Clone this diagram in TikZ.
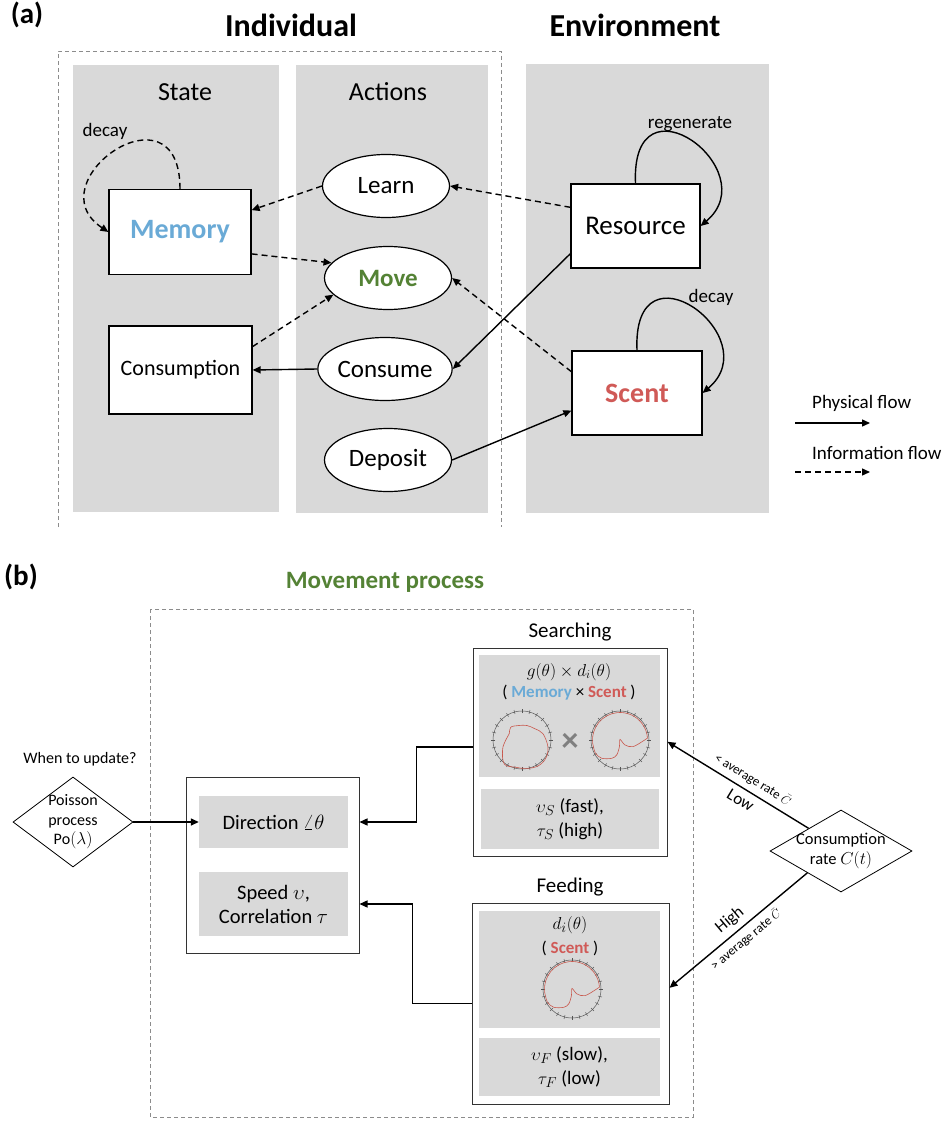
\documentclass[tikz,border=0pt]{standalone}
\usepackage{fontspec}
\setmainfont{Carlito}
\usetikzlibrary{shapes.geometric}
\usetikzlibrary{arrows.meta}
\definecolor{panelgray}{HTML}{D9D9D9}
\definecolor{memblue}{HTML}{6AAAD6}
\definecolor{scentred}{HTML}{D05A57}
\definecolor{movegreen}{HTML}{548235}
\definecolor{plotred}{HTML}{C8594E}
\definecolor{gridgray}{HTML}{555555}
\newcommand{\fs}[2]{\fontsize{#1}{#2}\selectfont}
\tikzset{
	txt/.style = {
		align=center,
		inner sep=0pt
	},
	hdr/.style = {
		txt,
		font=\fs{32}{38}\bfseries
	},
	tag/.style = {
		txt,
		font=\fs{29}{34}\bfseries
	},
	panel/.style = {
		rectangle,
		fill=panelgray,
		draw=none,
		inner sep=0pt
	},
	statebox/.style = {
		rectangle,
		draw=black,
		fill=white,
		line width=1.2pt,
		inner sep=0pt,
		align=center
	},
	actnode/.style = {
		ellipse,
		draw=black,
		fill=white,
		line width=1.2pt,
		inner sep=0pt,
		minimum width=127pt,
		minimum height=63pt,
		font=\fs{25}{30}
	},
	outbox/.style = {
		rectangle,
		draw=black!80,
		line width=1pt,
		inner sep=0pt
	},
	decision/.style = {
		diamond,
		draw=black,
		line width=0.8pt,
		inner sep=0pt
	},
	phys/.style = {
		line width=1.4pt,
		-{Triangle[length=8pt,width=7pt]}
	},
	revphys/.style = {
		line width=1.4pt,
		{Triangle[length=8pt,width=7pt]}-
	},
	info/.style = {
		phys,
		dash pattern=on 6pt off 4pt
	},
	groupline/.style = {
		draw=black!45,
		line width=0.8pt,
		dash pattern=on 4pt off 3pt
	},
	plotline/.style = {
		plotred,
		line width=0.6pt
	}
}
\newcommand{\polargrid}{%
	\draw[gridgray, line width=0.5pt] (0,0) circle[radius=1];
	\foreach \a in {0,15,...,345}
		\draw[gridgray, line width=0.5pt] (\a:0.93) -- (\a:1.07);
}
\newcommand{\scentcurve}{%
	\draw[plotline] plot[smooth, tension=0.5] coordinates {(0.95,0.07) (0.85,0) (0.45,-0.23) (0.17,-0.17) (0,0.02) (-0.02,-0.23) (-0.11,-0.51) (-0.28,-0.63) (-0.63,-0.63) (-0.85,-0.45) (-0.945,-0.1)}
		arc[start angle=186, end angle=4, radius=0.95];
}

\begin{document}
\begin{tikzpicture}[x=1pt, y=-1pt]
\useasboundingbox (0,0) rectangle (947,1121);

% (a) individual and environment
\node [tag] (taga) at (27,15) {(a)};
\node [hdr] (indiv) at (291,25) {Individual};
\node [hdr] (envir) at (635,25) {Environment};

\node [panel, minimum width=206pt, minimum height=447pt] (statepanel) at (176,288.5) {};
\node [panel, minimum width=192pt, minimum height=448pt] (actpanel) at (392,289) {};
\node [panel, minimum width=243pt, minimum height=449pt] (envpanel) at (647.5,288.5) {};
\draw [groupline] (58,527) -- (58,51) -- (501,51) -- (501,527);

\node [txt, font=\fs{26}{30}] (statehdr) at (185,92) {State};
\node [txt, font=\fs{26}{30}] (acthdr) at (388,92) {Actions};

\node [statebox, minimum width=142pt, minimum height=85pt, font=\fs{28}{32}\bfseries, text=memblue] (memory) at (180,232) {Memory};
\node [statebox, minimum width=143pt, minimum height=88pt, font=\fs{22}{26}] (consumption) at (180.5,370) {Consumption};

\node [actnode] (learn) at (386,186) {Learn};
\node [actnode, font=\fs{25}{30}\bfseries, text=movegreen] (move) at (388,278) {Move};
\node [actnode] (consume) at (385,369) {Consume};
\node [actnode] (deposit) at (388,460) {Deposit};

\node [statebox, minimum width=129pt, minimum height=84pt, font=\fs{27}{32}] (resource) at (635.5,226) {Resource};
\node [statebox, minimum width=130pt, minimum height=84pt, font=\fs{28}{32}\bfseries, text=scentred] (scent) at (637,393) {Scent};

% self loops
\draw [info] (memory.north) .. controls +(0,-110) and +(-75,-50) .. (memory.west);
\draw [phys] (resource.north) .. controls +(-5,-114) and +(66,-56) .. (resource.east);
\draw [phys] (scent.north) .. controls +(-5,-114) and +(66,-56) .. (scent.east);
\node [txt, font=\fs{19}{23}] (memdecay) at (105,131) {decay};
\node [txt, font=\fs{19}{23}] (regen) at (690,124) {regenerate};
\node [txt, font=\fs{19}{23}] (scentdecay) at (711,297) {decay};

% flows
\draw [info] (learn.west) -- (memory.17);
\draw [info] (resource.164) -- (learn.east);
\draw [info] (memory.-17) -- (move.165);
\draw [info] (consumption.18) -- (move.197);
\draw [info] (scent.162) -- (move.east);
\draw [phys] (consume.west) -- (consumption.east);
\draw [phys] (resource.203) -- (consume.east);
\draw [phys] (deposit.east) -- (scent.195);

% legend
\coordinate (physA) at (795,423);
\coordinate (physB) at (870,423);
\coordinate (infoA) at (795,472);
\coordinate (infoB) at (870,472);
\node [txt, anchor=west, font=\fs{19}{23}] (physlbl) at (812,403) {Physical flow};
\node [txt, anchor=west, font=\fs{19}{23}] (infolbl) at (812,453) {Information flow};
\draw [phys] (physA) -- (physB);
\draw [info] (infoA) -- (infoB);

% (b) movement process
\node [tag] (tagb) at (21,577) {(b)};
\node [txt, font=\fs{25}{30}\bfseries, text=movegreen] (movehdr) at (385,582) {Movement process};
\draw [groupline] (150,609) rectangle (693,1117);

\node [txt, font=\fs{16}{20}] (when) at (80,759) {When to update?};
\node [decision, minimum width=120pt, minimum height=90pt,
	label={[txt, font=\fs{16}{19.5}]center:Poisson\\process\\$\mathrm{Po}(\lambda)$}] (poisson) at (73,822) {};

\node [outbox, draw=black!80, minimum width=173pt, minimum height=176pt] (update) at (272.5,865) {};
\node [panel, minimum width=149pt, minimum height=52pt, font=\fs{20.5}{24}] (direction) at (273.5,822) {Direction $\angle\theta$};
\node [panel, minimum width=149pt, minimum height=64pt, font=\fs{20.5}{24}, align=center] (speed) at (273.5,904) {Speed $\upsilon$,\\Correlation $\tau$};

% searching
\node [txt, font=\fs{21}{25}] (searchlbl) at (570,632) {Searching};
\node [outbox, minimum width=194pt, minimum height=208pt] (search) at (570,752) {};
\node [panel, minimum width=181pt, minimum height=122pt] (searchtop) at (569.5,716) {};
\node [panel, minimum width=178pt, minimum height=60pt, font=\fs{19}{24}, align=center] (searchpar) at (570,819) {$\upsilon_S$ (fast),\\$\tau_S$ (high)};
\node [txt, font=\fs{17}{20}] (searchfun) at (569,672) {$g(\theta)\times d_i(\theta)$};
\node [txt, font=\fs{17}{20}] (searchsrc) at (569,693) {( \textbf{\textcolor{memblue}{Memory}} × \textbf{\textcolor{scentred}{Scent}} )};
\node [txt, font=\fs{34}{38}\bfseries, text=black!50] (timesmark) at (570,742) {×};
\begin{scope}[shift={(522,740)}, x=29pt, y=29pt]
	\polargrid
	\draw [plotline] plot[smooth cycle, tension=0.6] coordinates {(-0.39,0.44) (-0.11,0.5) (0.17,0.5) (0.44,0.39) (0.72,0.22) (0.89,-0.22) (0.83,-0.61) (0.56,-0.89) (0.17,-0.98) (-0.22,-0.94) (-0.61,-0.83) (-0.67,-0.33) (-0.56,0) (-0.44,0.22)};
\end{scope}
\begin{scope}[shift={(620,740)}, x=29pt, y=29pt]
	\polargrid
	\scentcurve
\end{scope}

% feeding
\node [txt, font=\fs{21}{25}] (feedlbl) at (570,887) {Feeding};
\node [outbox, minimum width=197pt, minimum height=201pt] (feed) at (570.5,1003.5) {};
\node [panel, minimum width=181pt, minimum height=117pt] (feedtop) at (569.5,969.5) {};
\node [panel, minimum width=181pt, minimum height=58pt, font=\fs{19}{24}, align=center] (feedpar) at (569.5,1067) {$\upsilon_F$ (slow),\\$\tau_F$ (low)};
\node [txt, font=\fs{19}{22}] (feedfun) at (570,925) {$d_i(\theta)$};
\node [txt, font=\fs{17}{20}] (feedsrc) at (570,948) {( \textbf{\textcolor{scentred}{Scent}} )};
\begin{scope}[shift={(572,989)}, x=29pt, y=29pt]
	\polargrid
	\scentcurve
\end{scope}

% consumption rate
\node [decision, minimum width=142pt, minimum height=82pt,
	label={[txt, font=\fs{16.5}{20}]center:Consumption\\rate $C(t)$}] (rate) at (841,851) {};

% connectors
\draw [phys] (poisson.east) -- (direction.west);
\draw [phys] (search.177) -- ++(-56,0) |- (direction.east -| update.east);
\draw [phys] (feed.west) -- ++(-59,0) |- (speed.east -| update.east);
\draw [revphys] (search.6) -- node[pos=0.56, sloped, above=2pt, font=\fs{13}{15}] (lowcond) {< average rate $\bar{C}$} node[pos=0.56, sloped, below=2pt, font=\fs{17}{20}] (lowlbl) {Low} (rate.145);
\draw [revphys] (feed.9) -- node[pos=0.5, sloped, above=2pt, font=\fs{17}{20}] (highlbl) {High} node[pos=0.5, sloped, below=2pt, font=\fs{13}{15}] (highcond) {> average rate $\bar{C}$} (rate.213);
\end{tikzpicture}
\end{document}
